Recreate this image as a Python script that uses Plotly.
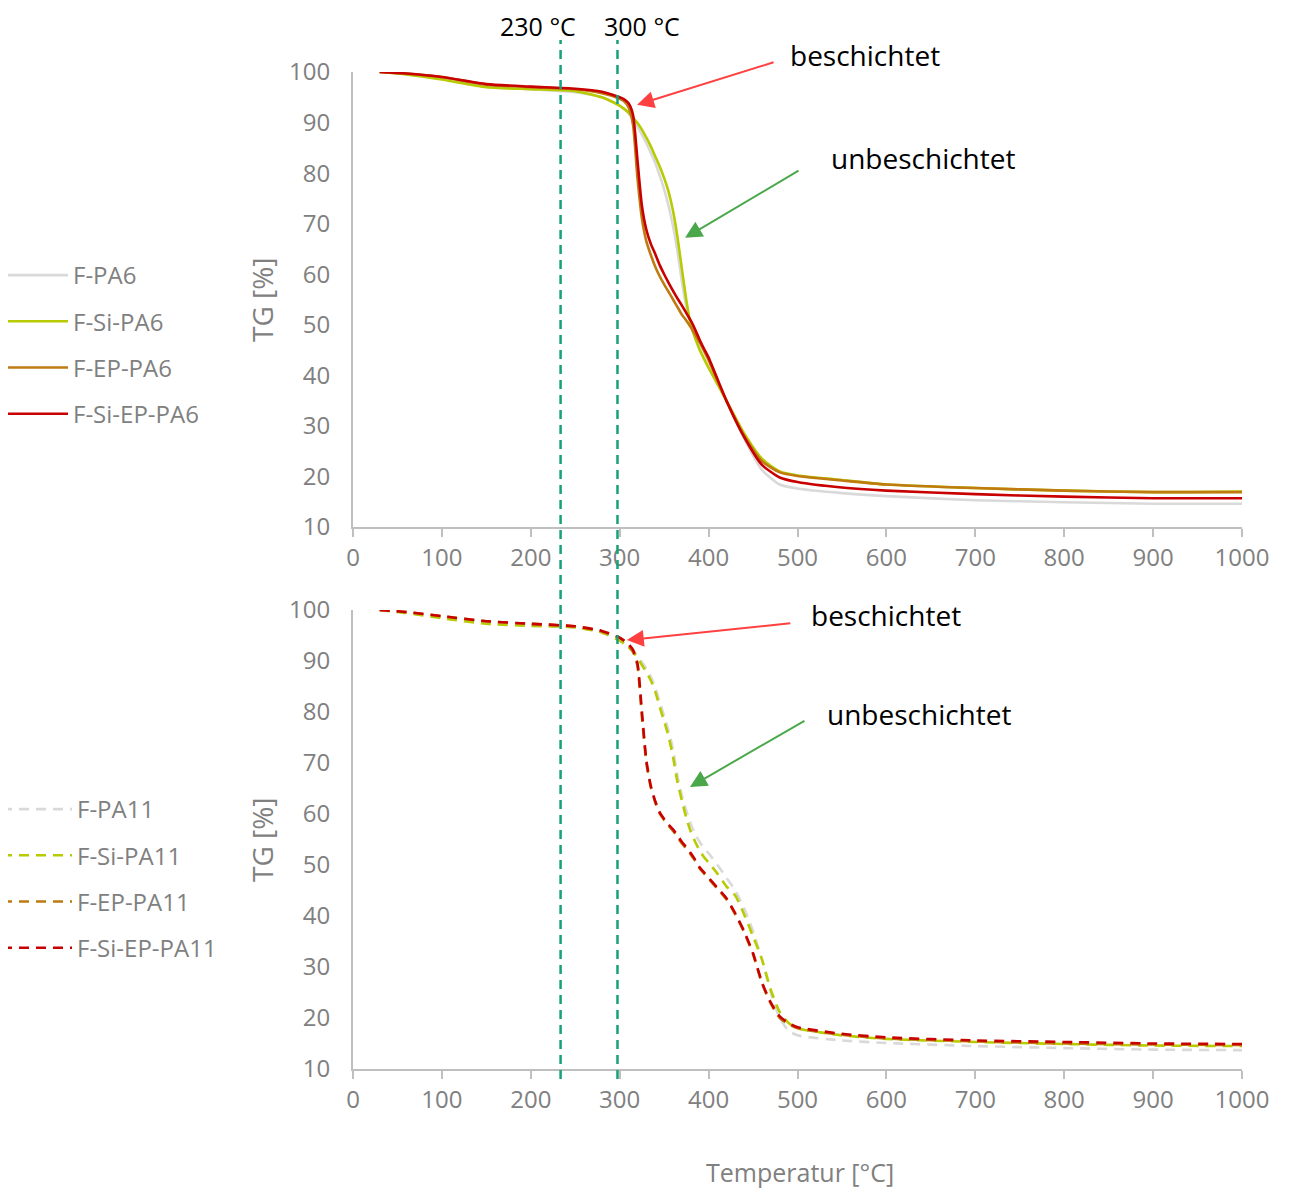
import plotly.graph_objects as go

# ---------------- data ----------------
T_TOP = [30, 60, 100, 150, 200, 250, 280, 300, 305, 310, 315, 320, 325, 330, 335, 340, 345, 350, 355, 360,
         365, 370, 375, 380, 385, 390, 395, 400, 420, 440, 460, 480, 500, 550, 600, 700, 800, 900, 1000]

F_PA6 = [100, 99.6, 98.6, 97.1, 96.6, 96.0, 95.0, 93.4, 92.7, 91.8, 90.6, 89.2, 87.6, 85.9, 84.0, 82.0, 79.5, 76.8, 73.5, 69.5,
         64.5, 58.5, 53.5, 50.0, 47.5, 45.3, 43.3, 41.5, 35.0, 27.5, 21.3, 18.4, 17.6, 16.7, 16.1, 15.3, 14.9, 14.6, 14.6]
F_SI_PA6 = [100, 99.5, 98.5, 97.0, 96.6, 96.2, 95.0, 93.3, 92.7, 92.0, 91.0, 89.9, 88.6, 87.0, 85.3, 83.3, 81.3, 79.0, 76.3, 72.5,
            67.3, 61.0, 54.8, 50.0, 47.3, 45.0, 43.2, 41.5, 35.0, 28.5, 23.5, 21.0, 20.2, 19.3, 18.4, 17.7, 17.2, 16.9, 17.0]
F_EP_PA6 = [100, 99.7, 99.0, 97.5, 97.0, 96.6, 95.8, 94.7, 94.2, 93.0, 89.5, 79.0, 71.0, 66.5, 63.8, 61.5, 59.6, 58.0, 56.5, 55.0,
            53.5, 52.0, 50.8, 49.5, 48.0, 46.5, 44.8, 43.0, 35.0, 28.0, 23.0, 20.8, 20.1, 19.2, 18.4, 17.7, 17.2, 16.9, 16.9]
F_SI_EP_PA6 = [100, 99.7, 99.0, 97.6, 97.1, 96.7, 96.1, 95.0, 94.6, 93.8, 91.5, 82.5, 73.5, 68.8, 66.0, 64.0, 61.8, 60.0, 58.3, 56.7,
               55.2, 53.8, 52.3, 50.8, 49.0, 47.0, 45.2, 43.5, 35.0, 27.8, 22.3, 19.8, 18.9, 17.8, 17.2, 16.5, 16.0, 15.7, 15.7]

T_BOT = [30, 60, 100, 150, 200, 250, 280, 300, 305, 310, 315, 320, 325, 330, 335, 340, 345, 350, 355, 360, 365, 370,
         375, 380, 385, 390, 395, 400, 410, 420, 430, 440, 450, 460, 470, 480, 490, 500, 550, 600, 700, 800, 900, 1000]

F_PA11 = [100, 99.5, 98.5, 97.4, 97.0, 96.6, 95.6, 94.0, 93.5, 92.8, 92.0, 91.0, 89.8, 88.5, 86.9, 84.8, 82.0, 79.2, 76.3, 72.6, 67.5, 63.6,
          60.6, 58.0, 56.0, 54.5, 53.3, 52.3, 50.0, 47.5, 45.0, 41.5, 37.0, 31.5, 25.0, 20.0, 17.5, 16.6, 15.6, 15.1, 14.5, 14.1, 13.8, 13.7]
F_SI_PA11 = [100, 99.4, 98.4, 97.3, 96.9, 96.6, 95.6, 94.0, 93.4, 92.7, 91.8, 90.6, 89.2, 87.8, 86.2, 84.0, 81.0, 78.2, 75.2, 71.2, 66.2, 62.6,
             59.2, 56.5, 54.5, 52.8, 51.5, 50.5, 48.3, 45.8, 44.0, 40.3, 36.0, 31.5, 25.5, 21.2, 19.0, 18.0, 16.6, 15.9, 15.3, 14.9, 14.6, 14.5]
F_EP_PA11 = [100, 99.6, 98.8, 97.8, 97.3, 96.8, 95.8, 94.5, 93.9, 93.0, 91.8, 89.0, 79.0, 70.0, 65.2, 62.3, 60.1, 58.8, 57.7, 56.7, 55.5, 54.2,
             53.2, 52.0, 50.8, 49.3, 48.3, 47.3, 45.3, 43.3, 40.3, 36.8, 32.5, 26.8, 22.8, 20.0, 18.8, 18.0, 16.7, 16.0, 15.4, 15.0, 14.8, 14.7]
F_SI_EP_PA11 = [100, 99.6, 98.8, 97.8, 97.3, 96.8, 95.9, 94.6, 94.0, 93.3, 92.2, 89.5, 80.0, 70.5, 65.5, 62.5, 60.3, 59.0, 57.9, 57.0, 55.8, 54.5,
                53.5, 52.3, 51.0, 49.5, 48.5, 47.5, 45.5, 43.5, 40.5, 37.0, 32.7, 27.0, 23.0, 20.3, 19.0, 18.2, 16.9, 16.2, 15.6, 15.3, 15.0, 14.9]

NAMES_TOP = ["F-PA6", "F-Si-PA6", "F-EP-PA6", "F-Si-EP-PA6"]
NAMES_BOT = ["F-PA11", "F-Si-PA11", "F-EP-PA11", "F-Si-EP-PA11"]
COLORS = ["#d9d9d9", "#b7cb00", "#bf7a10", "#c80000"]

VLINES = [233.5, 297.5]
VLINE_LABELS = ["230 °C", "300 °C"]

X_TICKS = [0, 100, 200, 300, 400, 500, 600, 700, 800, 900, 1000]
Y_TICKS = [10, 20, 30, 40, 50, 60, 70, 80, 90, 100]

# ---------------- figure ----------------
PAGE_OFF = 8                      # default page margin around the plot div
W, H = 1292 - PAGE_OFF, 1189 - PAGE_OFF
FONT = "Open Sans"
GRAY = "#808080"
AXIS = "#bfbfbf"


def py(px):
    """screen pixel (from top) -> paper fraction"""
    return 1 - (px - PAGE_OFF) / H


def pxx(px):
    """screen pixel (from left) -> paper fraction"""
    return (px - PAGE_OFF) / W


fig = go.Figure()

for name, ys, col in zip(NAMES_TOP, [F_PA6, F_SI_PA6, F_EP_PA6, F_SI_EP_PA6], COLORS):
    fig.add_trace(go.Scatter(x=T_TOP, y=ys, name=name, mode="lines",
                             line=dict(color=col, width=2.6, shape="spline", smoothing=0.6),
                             xaxis="x", yaxis="y", legend="legend", legendgroup=name))

for name, ys, col in zip(NAMES_BOT, [F_PA11, F_SI_PA11, F_EP_PA11, F_SI_EP_PA11], COLORS):
    fig.add_trace(go.Scatter(x=T_BOT, y=ys, name=name, mode="lines",
                             line=dict(color=col, width=2.6, dash="10px,7px", shape="spline", smoothing=0.6),
                             xaxis="x2", yaxis="y2", legend="legend2", legendgroup=name))

xdom = [pxx(353), pxx(1242)]
axis_common = dict(showgrid=False, zeroline=False, showline=True, linecolor=AXIS, linewidth=2,
                   tickfont=dict(family=FONT, size=24, color=GRAY), automargin=False)
xaxis_common = dict(axis_common, range=[0, 1000], tickvals=X_TICKS, ticks="outside",
                    ticklen=8, tickwidth=2, tickcolor=AXIS)
yaxis_common = dict(axis_common, range=[10, 100], tickvals=Y_TICKS, ticks="", ticklabelstandoff=16)

fig.update_layout(
    width=W, height=H,
    margin=dict(l=0, r=0, t=0, b=0, autoexpand=False),
    paper_bgcolor="white", plot_bgcolor="white",
    font=dict(family=FONT, color=GRAY),
    xaxis=dict(xaxis_common, domain=xdom, anchor="y"),
    yaxis=dict(yaxis_common, domain=[py(527), py(72)], anchor="x"),
    xaxis2=dict(xaxis_common, domain=xdom, anchor="y2"),
    yaxis2=dict(yaxis_common, domain=[py(1069), py(610)], anchor="x2"),
    legend=dict(x=pxx(3), y=py(253), xanchor="left", yanchor="top",
                font=dict(family=FONT, size=24, color=GRAY), tracegroupgap=12,
                itemwidth=60, bgcolor="rgba(0,0,0,0)"),
    legend2=dict(x=pxx(-3), y=py(787), xanchor="left", yanchor="top",
                 font=dict(family=FONT, size=24, color=GRAY), tracegroupgap=12,
                 itemwidth=70, bgcolor="rgba(0,0,0,0)"),
    showlegend=True,
)

# vertical reference lines spanning both panels
for v in VLINES:
    fig.add_shape(type="line", xref="x", yref="paper", x0=v, x1=v, y0=py(1079), y1=py(40),
                  line=dict(color="#16a07c", width=2.5, dash="9px,6px"), layer="above")

for lab, cx in zip(VLINE_LABELS, [538, 642]):
    fig.add_annotation(x=pxx(cx), y=1.0, xref="paper", yref="paper", text=lab, showarrow=False,
                       font=dict(family=FONT, size=25, color="black"), xanchor="center", yanchor="top",
                       borderpad=0)

# axis titles
for cy in [300, 840]:
    fig.add_annotation(x=pxx(262), y=py(cy), xref="paper", yref="paper", text="TG [%]", textangle=-90,
                       showarrow=False, font=dict(family=FONT, size=28, color=GRAY),
                       xanchor="center", yanchor="middle")
fig.add_annotation(x=pxx(800), y=py(1172), xref="paper", yref="paper", text="Temperatur [°C]",
                   showarrow=False, font=dict(family=FONT, size=25, color=GRAY),
                   xanchor="center", yanchor="middle")

# callouts
RED_ARROW = "#ff4040"
GREEN_ARROW = "#4aa84a"
callouts = [
    # (xref, yref, head_x, head_y, ax, ay, color, text, text_x_px, text_y_px)
    ("x", "y", 319.5, 93.5, 138, -43, RED_ARROW, "beschichtet", 865, 55),
    ("x", "y", 373.5, 67.2, 115, -68, GREEN_ARROW, "unbeschichtet", 923, 158),
    ("x2", "y2", 308.0, 94.1, 165, -17, RED_ARROW, "beschichtet", 886, 615),
    ("x2", "y2", 379.0, 65.3, 116, -67, GREEN_ARROW, "unbeschichtet", 919, 714),
]
for xr, yr, hx, hy, ax, ay, col, txt, tx, ty in callouts:
    fig.add_annotation(x=hx, y=hy, xref=xr, yref=yr, ax=ax, ay=ay, axref="pixel", ayref="pixel",
                       text="", showarrow=True, arrowhead=2, arrowsize=1.7, arrowwidth=2,
                       arrowcolor=col, standoff=0)
    fig.add_annotation(x=pxx(tx), y=py(ty), xref="paper", yref="paper", text=txt, showarrow=False,
                       font=dict(family=FONT, size=28, color="black"), xanchor="center", yanchor="middle")

fig.write_html("out.html")
